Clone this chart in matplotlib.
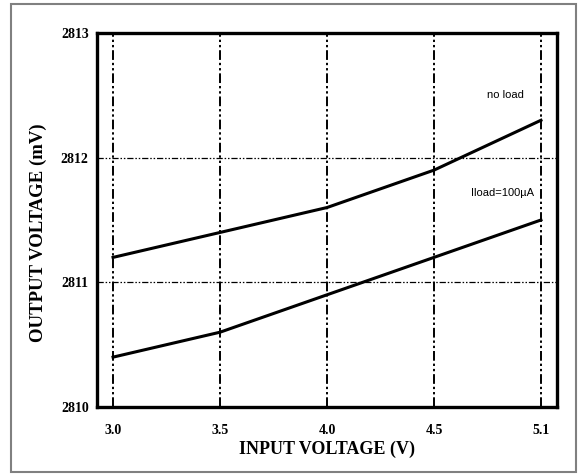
import numpy as np
import matplotlib
matplotlib.use('Agg')
import matplotlib.pyplot as plt
from matplotlib.patches import Rectangle

# input voltage ticks (equally spaced on the original chart)
vin_labels = ['3.0', '3.5', '4.0', '4.5', '5.1']
vout_no_load = [2811.2, 2811.4, 2811.6, 2811.9, 2812.3]
vout_100ua = [2810.4, 2810.6, 2810.9, 2811.2, 2811.5]
y_ticks = [2810, 2811, 2812, 2813]

fig = plt.figure(figsize=(5.78, 4.75), dpi=100)
fig.patches.append(Rectangle((11 / 578, 3 / 475), 565 / 578, 468 / 475,
                             transform=fig.transFigure, fill=False,
                             edgecolor='#808080', linewidth=1.5))

ax = fig.add_axes([97 / 578, 1 - 407 / 475, 460 / 578, 374 / 475])
pos = np.arange(len(vin_labels))

ax.plot(pos, vout_no_load, color='black', linewidth=2.2, zorder=3)
ax.plot(pos, vout_100ua, color='black', linewidth=2.2, zorder=3)

ax.set_xlim(-0.15, 4.15)
ax.set_ylim(2810, 2813)
ax.set_xticks(pos)
ax.set_xticklabels(vin_labels)
ax.set_yticks(y_ticks)

for p in pos:
    ax.axvline(p, color='black', linewidth=1.4, dashes=(5, 1.5, 1.2, 1.5, 1.2, 1.5), zorder=1)
for y in y_ticks[1:-1]:
    ax.axhline(y, color='black', linewidth=0.9, dashes=(5, 1.5, 1.2, 1.5, 1.2, 1.5), zorder=1)

for s in ax.spines.values():
    s.set_linewidth(2.4)

serif = ['Liberation Serif', 'DejaVu Serif']
ax.tick_params(axis='x', length=0, pad=12)
ax.tick_params(axis='y', length=0, pad=6)
for lab in ax.get_xticklabels() + ax.get_yticklabels():
    lab.set_family(serif)
    lab.set_fontweight('bold')
    lab.set_fontsize(10)

ax.set_xlabel('INPUT VOLTAGE (V)', family=serif, fontweight='bold', fontsize=13, labelpad=3)
ax.set_ylabel('OUTPUT VOLTAGE (mV)', family=serif, fontweight='bold', fontsize=13.5)
ax.yaxis.set_label_coords(-50 / 460, 0.465)

sans = ['Liberation Sans', 'DejaVu Sans']
ax.text(3.67, 2812.5, 'no load', family=sans, fontsize=8, ha='center', va='center')
ax.text(3.64, 2811.72, 'Iload=100\u00b5A', family=sans, fontsize=8, ha='center', va='center')

fig.savefig('out.png', dpi=100)
